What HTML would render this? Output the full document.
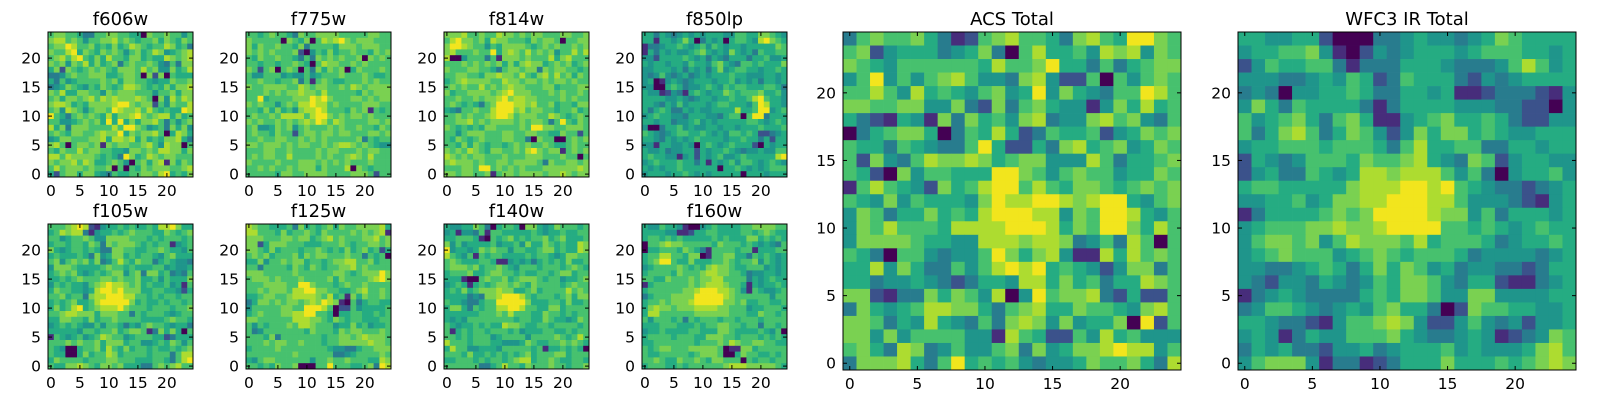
<!DOCTYPE html>
<html><head><meta charset="utf-8">
<style>
html,body{margin:0;padding:0;background:#fff;}
svg{display:block;}
text{font-family:"DejaVu Sans","Liberation Sans",sans-serif;fill:#000;}
</style></head>
<body>
<svg id="fig" width="1600" height="400" viewBox="0 0 1600 400" xmlns="http://www.w3.org/2000/svg"></svg>
<script>
// Tick values shared by all panels
const tickValues = [0, 5, 10, 15, 20];
// Panel titles
const panelTitles = ["f606w","f775w","f814w","f850lp","f105w","f125w","f140w","f160w","ACS Total","WFC3 IR Total"];
// Cell values (0-9 colour level), rows listed top (y=24) to bottom (y=0)
const f606w = ["6776653366776655076676646","7886764667786765667576576","6779866756575687656687563","7668957657676467568745678","6786896575866577565587678","7674768575673676676436377","5727656767657776867447568","3346766777556776072706555","5364566667675776654557667","3457654657656887656575778","7685577664767776664667577","6757767868787778760748687","7887565777789976772647668","6748764677698778686565598","9653676765857789767885756","6644567675959575778636467","8573777666686997645637574","6765776678779576778605875","4577666778588785756577853","7860677671767766786487706","6576686776655477676887757","8868777765653975687677666","7677868755676406757817576","6867776766706065767776678","5267757754365566776895657"];
const f775w = ["6656766537667777666667766","7666660765706878976777666","7576676657366665777677766","7676766672046575667665767","6576676653637676766707676","6656656676506877667676666","7626706760637576705766676","6446664544645666766676556","6676656673616765566676766","7667777668767766768767777","6667676778776866666576777","6695666677798976667767677","7676646768898867666677766","6657575647889866657671656","6766768888689976767767666","7676676767879868766667767","6744576746766676766766576","6766576626776776776667767","6676677667676766666736566","7767776767766767887676544","6667766766667677666767766","6767766866667676678768666","7666676667776767676667666","6676766767775766680765666","6666657766777766667776266"];
const f814w = ["7778667668776767766677667","6897767587766657677606677","7998766465777765676766767","7866676695787686767466868","8004666361777676668578666","6667676767575787756767567","7666776653677677376776656","6677665778776865786867576","5678777766877677676776766","6767668676787766677566677","7566777767897776667676676","6676676778978877666676766","6765653679998878667566577","5436676689997867766566756","6676766789986777668765676","6677867677776767763696576","7656565776666769977667776","6646777666776677665576626","6576567666776630766006767","6657576566567676676556766","7676876577667689767716767","8767677666766677766676606","7877767667767777637667767","6667769967676766677777787","7767766716776777767787677"];
const f850lp = ["5535434545455544665577654","5515545750354505665489765","1334556545646545545555576","1535454456754547545365566","4425555654535435553556445","5455455465546754366565557","4455545354535745665545565","4346434534545556554445545","4501454345554556454535545","4400565344565465665556653","5441243156545576566675564","5555445434554556556896554","5543546455545665554698554","5356533545445555855699456","4565544355544356606993555","5545534456454555556654565","4003556454455455455565556","6543456655654546656522345","5543545456555545565535255","4415544540565456555205455","5445344552545565434454466","5655441452545644565555589","4565556553515456466545654","5454556555555055654545666","4555455654545555505554555"];
const f105w = ["6667898214556565565889755","5687883145565676665576567","6645667644777766656566656","5665665763767776565661456","7545665653377665566765546","5655565374577565665467555","6746767573468657663565443","4777655556766565556645445","5676754565677467377563436","5565676667767667556465557","4656554678988767565564516","5766554589989777556655425","6675663788999886656566566","5656755689999975655656656","5756895678889766656665667","6678877757776636566654566","5577665756676666555567665","4565654464665354676654553","5555546656675677613757506","1654564568766456665523555","6667676675777566445657646","6540056675865756656556567","6550057566875666656663688","5766665666776665556653689","6557787657767555336767866"];
const f125w = ["8766555637565675766777785","8866657566765766667676781","7776667767756786766677867","7725777666555666765667767","7765756665667656575675625","6767566675767766676636560","5574667677566567788667566","6636666576576566778676666","7776666676666667765677797","6777676667666675766667897","6667777669976665676676666","6676777688997766556786676","5567766788887685617576676","3577676776787987106356655","4666667766999860226455556","5676667788996650556655656","7766666688877657656655566","6465666768876664557564556","6346666666576665767766676","6665736666666566776787776","6667677667666566777778776","5666676666666654433566777","6666666676666663345666676","5467766666646676676665587","6656576670006696665567398"];
const f140w = ["5445576305665077545766656","4514436166555556545565566","5566651065675656675675556","7464555564556475576565587","9455457676646655677565587","8654616566555565665457766","6765556651145453565657556","6777675667654666566656765","5666755677665655665677566","5551006766756777656645567","4565156567767657666656766","5657567778775567566668676","5555343778999865666567577","6554335669999975556657556","5775365668899866557756666","5555556667686665576656566","5454666666665665576554576","6545565655877655665666656","6156566566656455566556566","6656566645666646666765686","8666566655444576556676765","5866445554666665615565650","6665755656565675666775666","5566656566567885667655665","6666663356866576667665667"];
const f160w = ["5446554100456555566777766","5555441125566555566567655","5665656555556565557756565","0667877666665766656545436","0556665765316666566155566","5668866577016677553656545","5679965575556676566746545","4566667656578776556664545","5666657666788776653445545","6655766676778866663545655","1566666676788876651545565","5666666778999887641654456","3566677779999987666666466","5667677789999977675566556","5787767778888776664556665","5886666667777776665576656","6466656365666566566656666","5556665556566776656636656","4556555566555776555565460","5666656665577766566656565","5566666665666768766776655","6567766677777601177566666","6556666656777600576655656","6676557667657766606566566","5666556566666678887777765"];
const acsTotal = ["3676675312678665378659976","6724555345730685564878476","7654666666586679553635677","4694646786443784226064676","6686485654674594754366986","7766774473273675441475856","5321541737564783447867436","0356775036585236556245767","6553654336952253785674576","6274368778756774448635567","6520746655599764676645576","1686542756899686577656767","6547465554798899878995467","4763557565899988476998546","4768666588889998576997586","4777765544888788734638606","6530664344697578411858676","5584753364689895654247736","5534454323554885756355876","7721337576480496778325226","3754568877536785576654786","7763548543637874745570926","7747466664418652264856444","6753873464467374577898846","3777853695656434457667538"];
const wfc3Total = ["5544552000334544345765555","4556674102434555456665545","2465566313335554333468645","4443345465236555324345555","3430445565335545112333214","4753655553135555444332204","6456753675114567556532244","6357863576424757756544555","4556665666536855663355455","2543466657667854376245544","2453365458878886463045564","5665555578889989654332345","4455645778899988644432145","1355556767999987746355545","4566677877899996656545655","4677674687776856665345565","4567666456765666534444345","4433456535757645344332355","4324435434657764355211345","1345433335657764477444455","3466543454675530276655445","5543321466787422464342445","4541354466675433454123476","3545332445345556454445786","4677741331235557555656787"];
const panelData = [f606w,f775w,f814w,f850lp,f105w,f125w,f140w,f160w,acsTotal,wfc3Total];

// viridis colour levels
const LEVEL_COLORS = ["#440154","#472d7b","#3b528b","#287c8e","#1f958b","#25ac82","#47c16e","#7ad151","#addc30","#f2e51d"];
const NS = "http://www.w3.org/2000/svg";
const svg = document.getElementById("fig");

// panel layout [left, top, size]
const layout = [
  [48,32,145],[246,32,145],[444,32,145],[642,32,145],
  [48,224,145],[246,224,145],[444,224,145],[642,224,145],
  [843,32,338],[1238,32,338]
];

function mk(tag, attrs, parent){
  const e = document.createElementNS(NS, tag);
  for (const k in attrs) e.setAttribute(k, attrs[k]);
  (parent||svg).appendChild(e);
  return e;
}
function slug(s){ return s.toLowerCase().replace(/[^a-z0-9]+/g,'-').replace(/-$/,''); }

panelData.forEach((rows, p) => {
  const [L, T, S] = layout[p];
  const name = slug(panelTitles[p]);
  const g = mk("g", {});
  
  
  const xs = v => L + (v + 0.5) / 25 * S;
  const ys = v => T + S - (v + 0.5) / 25 * S;
  const cw = S / 25;
  rows.forEach((row, ri) => {
    const yv = 24 - ri;
    for (let xi = 0; xi < 25; xi++) {
      const ch = row[xi] === undefined ? "6" : row[xi];
      const lvl = Math.max(0, Math.min(9, parseInt(ch, 10)));
      const r = mk("rect", {
        x: (xs(xi - 0.5)).toFixed(2), y: (ys(yv + 0.5)).toFixed(2),
        width: (cw + 0.35).toFixed(2), height: (cw + 0.35).toFixed(2),
        fill: LEVEL_COLORS[lvl]
      }, g);
      
      
    }
  });
  const fr = mk("rect", {x:L, y:T, width:S, height:S, fill:"none", stroke:"#000", "stroke-width":1}, g);
  
  
  const fs = 15.5;
  tickValues.forEach(t => {
    const x = xs(t), y = ys(t);
    mk("line", {x1:x, y1:T+S, x2:x, y2:T+S-4, stroke:"#000", "stroke-width":1}, g);
    mk("line", {x1:x, y1:T, x2:x, y2:T+4, stroke:"#000", "stroke-width":1}, g);
    mk("line", {x1:L, y1:y, x2:L+4, y2:y, stroke:"#000", "stroke-width":1}, g);
    mk("line", {x1:L+S, y1:y, x2:L+S-4, y2:y, stroke:"#000", "stroke-width":1}, g);
    const xt = mk("text", {x:x, y:T+S+19, "text-anchor":"middle", "font-size":fs}, g);
    xt.textContent = t;
    
    
    const yt = mk("text", {x:L-7, y:y+5.5, "text-anchor":"end", "font-size":fs}, g);
    yt.textContent = t;
    
    
  });
  const tt = mk("text", {x:L+S/2, y:T-7, "text-anchor":"middle", "font-size":18}, g);
  tt.textContent = panelTitles[p];
  
  
});
</script>
</body></html>
